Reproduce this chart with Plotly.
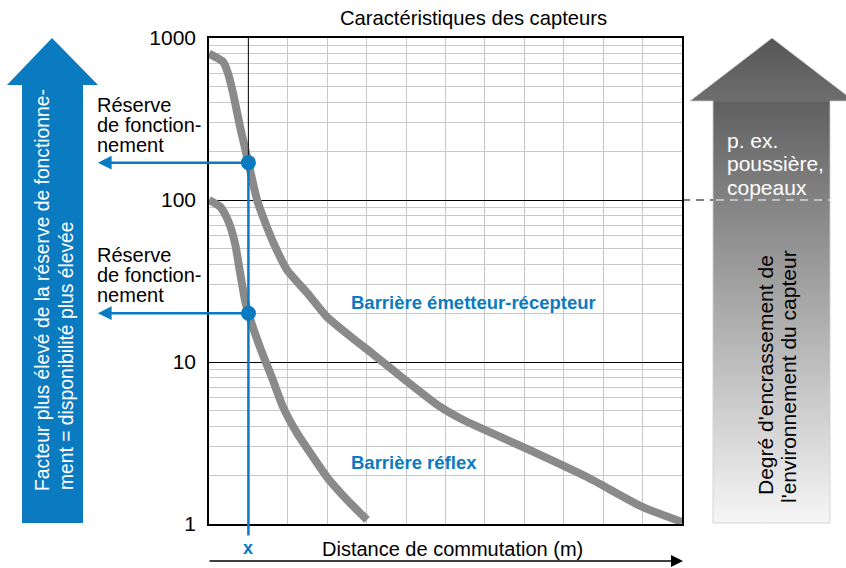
import math
import plotly.graph_objects as go

W, H = 846, 568
FONT = "Liberation Sans, Arial, sans-serif"
BLUE = "#0b7bc1"
CURVE = "#8a8a8a"

# Courbes de réserve de fonctionnement (facteur en fonction de la distance)
distance_emetteur = [0, 0.36, 0.48, 0.61, 0.79, 1.0, 1.22, 1.47, 1.72, 1.98, 2.49, 2.99,
                     3.65, 4.16, 5.02, 5.86, 6.44, 8.14, 9.59, 11.01, 12.0]
reserve_emetteur = [800, 711, 608, 457, 282, 170, 100, 68, 49, 37, 26.7, 19,
                    14, 11.2, 7.6, 5.3, 4.4, 2.86, 1.95, 1.27, 1.03]
distance_reflex = [0, 0.28, 0.48, 0.66, 0.79, 0.91, 1.0, 1.29, 1.62, 1.88, 2.23, 2.64,
                   2.99, 3.5, 4.01]
reserve_reflex = [100, 91, 75, 54, 35.4, 24.2, 20, 12.4, 7.74, 5.27, 3.65, 2.59,
                  1.95, 1.41, 1.06]

# Distance de lecture x et réserves correspondantes
distance_x = 1.0
reserve_x = [170, 20]

y_ticks = [1, 10, 100, 1000]
y_tick_labels = ["1", "10", "100", "1000"]
y_minor = [m * 10 ** d for d in range(3) for m in range(2, 10)]
x_max = 12

# Zone du graphique en pixels
PL, PR, PT, PB = 209, 682, 38, 524

fig = go.Figure()

# --- Flèches décoratives (repère pixel x2/y2) ---
blue_arrow_x = [52, 98, 83, 83, 22, 22, 7, 52]
blue_arrow_y = [38, 85, 85, 523, 523, 85, 85, 38]
fig.add_trace(go.Scatter(
    x=blue_arrow_x, y=blue_arrow_y, xaxis="x2", yaxis="y2",
    mode="lines", fill="toself", fillcolor=BLUE, line=dict(width=0, color=BLUE),
    hoverinfo="skip", showlegend=False))

grey_arrow_x = [772, 854, 830, 830, 713, 713, 690, 772]
grey_arrow_y = [38, 101, 101, 523, 523, 101, 101, 38]
fig.add_trace(go.Scatter(
    x=grey_arrow_x, y=grey_arrow_y, xaxis="x2", yaxis="y2",
    mode="lines", fill="toself",
    fillgradient=dict(type="vertical", start=523, stop=38,
                      colorscale=[[0, "#f6f6f6"], [0.868, "#606060"], [0.87, "#6e6e6e"],
                                  [1, "#565656"]]),
    line=dict(width=1, color="rgba(205,205,205,0.8)"),
    hoverinfo="skip", showlegend=False))

# --- Courbes ---
fig.add_trace(go.Scatter(
    x=distance_emetteur, y=reserve_emetteur, mode="lines",
    line=dict(color=CURVE, width=8, shape="spline", smoothing=0.6),
    name="Barrière émetteur-récepteur", showlegend=False))
fig.add_trace(go.Scatter(
    x=distance_reflex, y=reserve_reflex, mode="lines",
    line=dict(color=CURVE, width=8, shape="spline", smoothing=0.6),
    name="Barrière réflex", showlegend=False))

# Repère vertical noir au-dessus du point de lecture
fig.add_trace(go.Scatter(
    x=[distance_x, distance_x], y=[y_ticks[-1], reserve_x[0]], mode="lines",
    line=dict(color="#222222", width=1.2), hoverinfo="skip", showlegend=False))

# Points de lecture
fig.add_trace(go.Scatter(
    x=[distance_x] * len(reserve_x), y=reserve_x, mode="markers",
    marker=dict(color=BLUE, size=15), cliponaxis=False,
    hoverinfo="skip", showlegend=False))

annotations = []


def ptext(x, y, text, size=20, color="black", **kw):
    d = dict(xref="x2", yref="y2", x=x, y=y, text=text, showarrow=False,
             font=dict(size=size, color=color, family=FONT))
    d.update(kw)
    return d


# Titre
annotations.append(ptext(473, 18, "Caractéristiques des capteurs", 20.2))

# Réserve de fonctionnement (deux blocs)
for top in (105, 255):
    for i, line in enumerate(["Réserve", "de fonction-", "nement"]):
        annotations.append(ptext(95, top + 20 * i, line, 20, xanchor="left"))

# Texte de la flèche bleue
annotations.append(ptext(42, 290, "Facteur plus élevé de la réserve de fonctionne-", 19.3,
                         "white", textangle=-90))
annotations.append(ptext(66, 356, "ment = disponibilité plus élevée", 19.3,
                         "white", textangle=-90))

# Texte de la flèche grise
for i, line in enumerate(["p. ex.", "poussière,", "copeaux"]):
    annotations.append(ptext(725, 140 + 23.5 * i, line, 21, "white", xanchor="left"))
annotations.append(ptext(765, 375, "Degré d'encrassement de", 21, textangle=-90))
annotations.append(ptext(788, 377, "l'environnement du capteur", 21, textangle=-90))

# Axe des distances
annotations.append(ptext(452, 549, "Distance de commutation (m)", 20))
annotations.append(dict(xref="x", yref="y2", x=distance_x, y=548, text="<b>x</b>",
                        showarrow=False, font=dict(size=18, color=BLUE, family=FONT)))
annotations.append(dict(xref="x2", yref="y2", x=PR + 1, y=561, ax=PL - 1, ay=561,
                        axref="x2", ayref="y2", text="", showarrow=True,
                        arrowhead=2, arrowsize=1.6, arrowwidth=1.5, arrowcolor="black",
                        standoff=0, startstandoff=0))

# Noms des courbes
annotations.append(dict(xref="x", yref="y", x=3.55, y=1.37, text="<b>Barrière émetteur-récepteur</b>",
                        xanchor="left", showarrow=False,
                        font=dict(size=18.5, color=BLUE, family=FONT)))
annotations.append(dict(xref="x", yref="y", x=3.55, y=0.377, text="<b>Barrière réflex</b>",
                        xanchor="left", showarrow=False,
                        font=dict(size=18.5, color=BLUE, family=FONT)))

# Ligne verticale bleue à la distance x
annotations.append(dict(xref="x", yref="y", x=distance_x, y=math.log10(reserve_x[0]),
                        ax=distance_x, ay=-0.08, axref="x", ayref="y", text="",
                        showarrow=True, arrowhead=0, arrowwidth=2.5, arrowcolor=BLUE,
                        standoff=0, startstandoff=0))
# Flèches horizontales vers la réserve de fonctionnement
for r in reserve_x:
    ly = math.log10(r)
    annotations.append(dict(xref="x", yref="y", x=-2.82, y=ly, ax=distance_x, ay=ly,
                            axref="x", ayref="y", text="", showarrow=True,
                            arrowhead=2, arrowsize=1.1, arrowwidth=2.5, arrowcolor=BLUE,
                            standoff=0, startstandoff=0))

shapes = [
    dict(type="line", xref="x2", yref="y2", x0=PR, x1=713, y0=200, y1=200,
         line=dict(color="black", width=1.2, dash="8px,6px")),
    dict(type="line", xref="x2", yref="y2", x0=716, x1=830, y0=200, y1=200,
         line=dict(color="white", width=1.2, dash="8px,6px")),
]

fig.update_layout(
    width=W, height=H,
    margin=dict(l=0, r=0, t=0, b=0, autoexpand=False),
    paper_bgcolor="white", plot_bgcolor="rgba(0,0,0,0)",
    font=dict(family=FONT, color="black"),
    showlegend=False,
    xaxis=dict(domain=[PL / W, PR / W], range=[0, x_max], dtick=1, tick0=0,
               showgrid=True, gridcolor="#c8c8c8", gridwidth=1.3,
               showticklabels=False, ticks="", zeroline=False, automargin=False,
               showline=True, linecolor="black", linewidth=1.5, mirror=True,
               fixedrange=True),
    yaxis=dict(domain=[1 - PB / H, 1 - PT / H], type="log", range=[0, 3],
               tickmode="array", tickvals=y_ticks, ticktext=y_tick_labels,
               tickfont=dict(size=21, color="black", family=FONT),
               ticks="", ticklabelstandoff=7, automargin=False,
               showgrid=True, gridcolor="black", gridwidth=1.1,
               minor=dict(tickmode="array", tickvals=y_minor, showgrid=True,
                          gridcolor="#c8c8c8", gridwidth=1.3, ticks=""),
               zeroline=False, showline=True, linecolor="black", linewidth=1.5,
               mirror=True, fixedrange=True),
    xaxis2=dict(domain=[0, 1], range=[0, W], visible=False, anchor="y2",
                automargin=False, fixedrange=True),
    yaxis2=dict(domain=[0, 1], range=[H, 0], visible=False, anchor="x2",
                automargin=False, fixedrange=True),
    annotations=annotations,
    shapes=shapes,
)

fig.write_html("out.html")
